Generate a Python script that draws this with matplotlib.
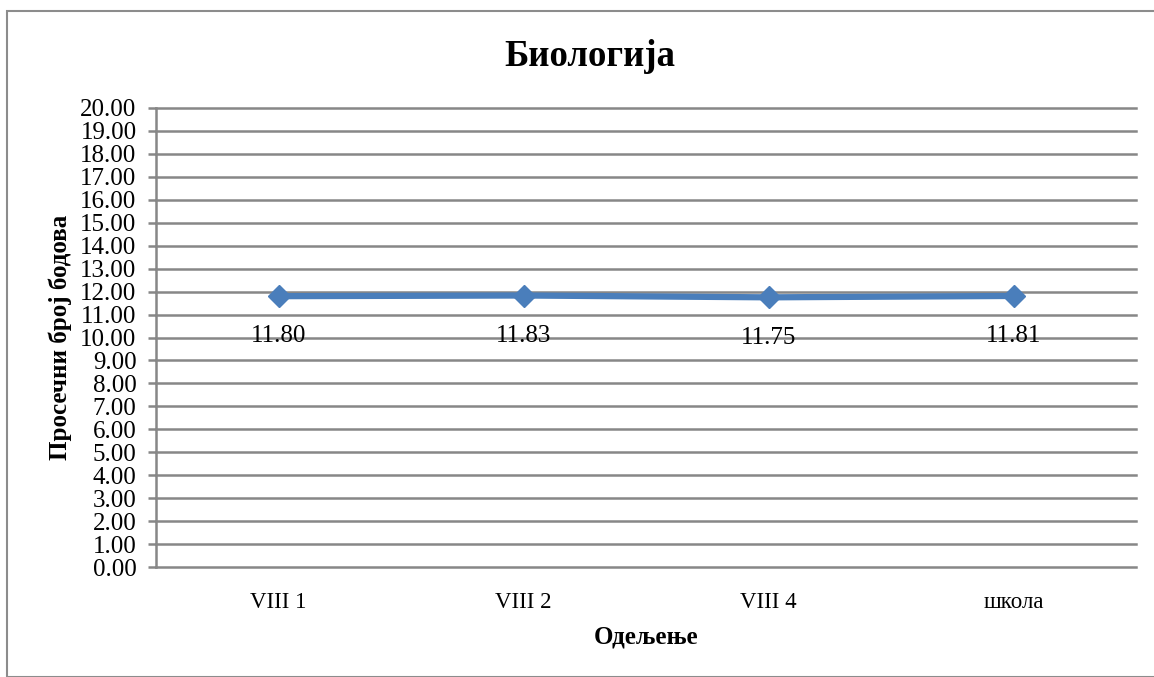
import matplotlib.pyplot as plt
from matplotlib.patches import Rectangle

# data
categories = ['VIII 1', 'VIII 2', 'VIII 4', 'школа']
values = [11.80, 11.83, 11.75, 11.81]
y_ticks = list(range(0, 21))

plt.rcParams['font.family'] = ['Liberation Serif', 'DejaVu Serif']

fig = plt.figure(figsize=(11.54, 6.77), dpi=100)
W, H = 1154, 677
ax = fig.add_axes([156 / W, 1 - 567 / H, (1136 - 156) / W, (567 - 108) / H])

# outer chart border
fig.patches.append(Rectangle((7 / W, 0), 1.2, 1 - 11 / H, transform=fig.transFigure,
                             fill=False, edgecolor='#8c8c8c', linewidth=1.5))

grid_col = '#878787'
for y in y_ticks:
    ax.axhline(y, color=grid_col, linewidth=1.8, zorder=1, clip_on=False)

x = list(range(len(categories)))
ax.plot(x, values, color='#4a7ebb', linewidth=4.5, marker='D', markersize=11,
        markerfacecolor='#4a7ebb', markeredgecolor='#4a7ebb', zorder=3)

for xi, v in zip(x, values):
    ax.annotate('%.2f' % v, (xi, v), xytext=(0, -29), textcoords='offset points',
                ha='center', va='center', fontsize=18, zorder=4)

ax.set_xlim(-0.5, 3.5)
ax.set_ylim(0, 20)
ax.set_yticks(y_ticks)
ax.set_yticklabels(['%.2f' % y for y in y_ticks], fontsize=18)
ax.set_xticks(x)
ax.set_xticklabels(categories, fontsize=16.5)
ax.tick_params(axis='x', length=0, pad=18)
ax.tick_params(axis='y', length=6, width=1.8, color=grid_col, pad=8)

for s in ['top', 'right', 'bottom']:
    ax.spines[s].set_visible(False)
ax.spines['left'].set_color(grid_col)
ax.spines['left'].set_linewidth(1.8)

ax.set_xlabel('Одељење', fontsize=18, fontweight='bold', labelpad=9)
ax.set_ylabel('Просечни број бодова', fontsize=18, fontweight='bold', labelpad=6)
fig.text(590 / W, 1 - 57 / H, 'Биологија', fontsize=26.5, fontweight='bold',
         ha='center', va='center')

fig.savefig('out.png', dpi=100)
